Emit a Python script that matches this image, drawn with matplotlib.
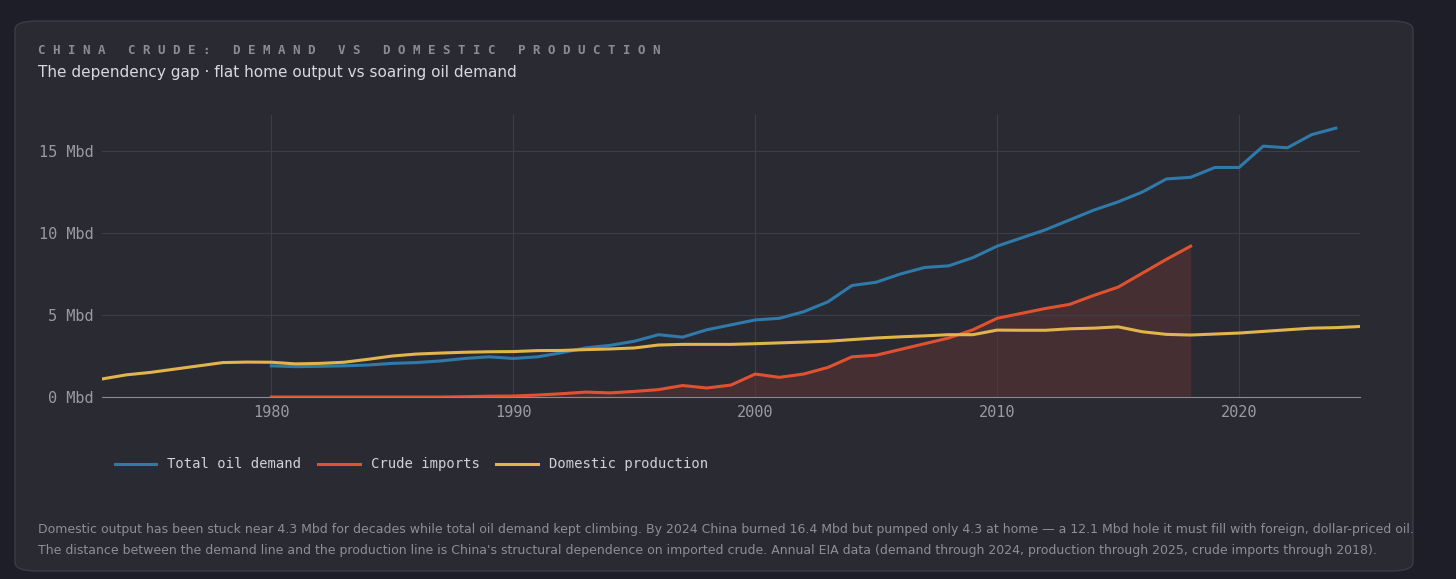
#!/usr/bin/python3

import numpy as np
import matplotlib.pyplot as plt
from matplotlib.patches import FancyBboxPatch


def plot_dependency():
    years_prod = np.arange(1973, 2026)
    production = [1.1, 1.35, 1.5, 1.7, 1.9, 2.1, 2.13, 2.12, 2.02, 2.05,
                  2.12, 2.3, 2.5, 2.62, 2.68, 2.73, 2.76, 2.77, 2.83, 2.84,
                  2.89, 2.93, 2.99, 3.17, 3.21, 3.21, 3.21, 3.25, 3.3, 3.35,
                  3.4, 3.5, 3.6, 3.67, 3.73, 3.8, 3.8, 4.08, 4.07, 4.07,
                  4.16, 4.2, 4.28, 3.98, 3.82, 3.78, 3.84, 3.9, 4.0, 4.1,
                  4.2, 4.23, 4.3]

    years_dem = np.arange(1980, 2025)
    demand = [1.9, 1.85, 1.87, 1.9, 1.95, 2.05, 2.1, 2.2, 2.35, 2.45,
              2.35, 2.45, 2.7, 3.0, 3.15, 3.4, 3.8, 3.65, 4.1, 4.4,
              4.7, 4.8, 5.2, 5.8, 6.8, 7.0, 7.5, 7.9, 8.0, 8.5,
              9.2, 9.7, 10.2, 10.8, 11.4, 11.9, 12.5, 13.3, 13.4, 14.0,
              14.0, 15.3, 15.2, 16.0, 16.4]

    years_imp = np.arange(1980, 2019)
    imports = [0, 0, 0, 0, 0, 0, 0, 0, 0.02, 0.05,
               0.06, 0.12, 0.2, 0.3, 0.25, 0.34, 0.45, 0.7, 0.55, 0.73,
               1.4, 1.2, 1.4, 1.8, 2.45, 2.55, 2.9, 3.25, 3.6, 4.1,
               4.8, 5.1, 5.4, 5.65, 6.2, 6.7, 7.55, 8.4, 9.2]

    blue, red, yellow = '#2f7aa8', '#e0522f', '#e2b44c'
    card = '#2a2a33'
    mono = 'DejaVu Sans Mono'

    fig = plt.figure(figsize=(14.56, 5.79), dpi=100, facecolor='#1e1e28')
    fig.patches.append(FancyBboxPatch((15/1456, 8/579), 1398/1456, 550/579, boxstyle='round,pad=0,rounding_size=0.015',
                                      transform=fig.transFigure, facecolor=card, edgecolor='#3c3c48', linewidth=1,
                                      zorder=-10))

    ax = fig.add_axes([102/1456, 1 - 397/579, 1258/1456, 282/579])
    ax.set_facecolor('none')

    ax.fill_between(years_imp, imports, color=red, alpha=0.15, linewidth=0)
    ax.plot(years_dem, demand, color=blue, lw=2.2, label='Total oil demand')
    ax.plot(years_imp, imports, color=red, lw=2.2, label='Crude imports')
    ax.plot(years_prod, production, color=yellow, lw=2.2, label='Domestic production')

    ax.set_xlim(1973, 2025)
    ax.set_ylim(0, 17.2)
    ax.set_xticks([1980, 1990, 2000, 2010, 2020])
    ax.set_yticks([0, 5, 10, 15])
    ax.set_yticklabels(['0 Mbd', '5 Mbd', '10 Mbd', '15 Mbd'])
    ax.grid(True, color='#3d3d48', lw=0.8)
    for s in ['top', 'right', 'left']:
        ax.spines[s].set_visible(False)
    ax.spines['bottom'].set_color('#8a8a94')
    ax.tick_params(length=0, colors='#9a9aa4', labelsize=11, pad=6)
    for lab in ax.get_xticklabels() + ax.get_yticklabels():
        lab.set_family(mono)

    leg = ax.legend(loc='upper left', bbox_to_anchor=(0.0, -0.17), ncol=3, frameon=False,
                    prop={'family': mono, 'size': 10}, handlelength=3, columnspacing=1.2)
    for t in leg.get_texts():
        t.set_color('#d0d0d6')

    fig.text(38/1456, 1 - 50/579, ' '.join('CHINA CRUDE: DEMAND VS DOMESTIC PRODUCTION'),
             family=mono, fontsize=9, weight='bold', color='#8c8c96', va='center')
    fig.text(38/1456, 1 - 73/579, 'The dependency gap · flat home output vs soaring oil demand',
             fontsize=11, color='#d8d8de', va='center')
    fig.text(38/1456, 1 - 540/579,
             'Domestic output has been stuck near 4.3 Mbd for decades while total oil demand kept climbing. '
             'By 2024 China burned 16.4 Mbd but pumped only 4.3 at home — a 12.1 Mbd hole it must fill with foreign, dollar-priced oil.\n'
             "The distance between the demand line and the production line is China's structural dependence on imported crude. "
             'Annual EIA data (demand through 2024, production through 2025, crude imports through 2018).',
             fontsize=9.0, color='#8e8e98', linespacing=1.75, va='center')

    fig.savefig('out.png', dpi=100, facecolor=fig.get_facecolor())


if __name__ == "__main__":
    plot_dependency()
